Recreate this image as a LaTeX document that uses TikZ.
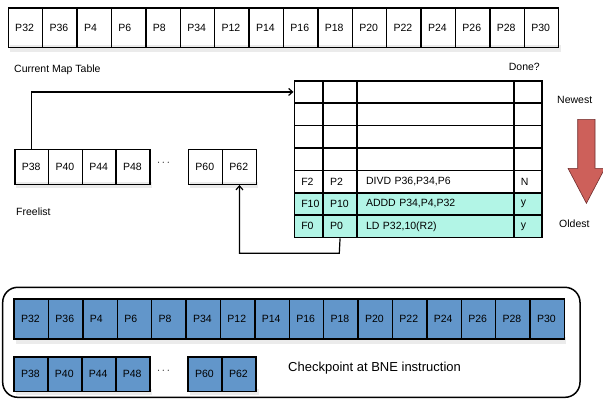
\documentclass[tikz,border=0pt]{standalone}
\usepackage{fontspec}
\setmainfont{Liberation Sans}
\usetikzlibrary{arrows.meta}
\definecolor{rowcyan}{RGB}{178,245,230}
\definecolor{boxblue}{RGB}{98,150,202}
\definecolor{arrowred}{RGB}{205,96,90}
\definecolor{arrowedge}{RGB}{110,45,45}
\tikzset{
  cell/.style={draw=black, line width=1.5pt, anchor=north west, inner xsep=7pt, inner ysep=0pt,
    minimum width=#1, text width=#1-14pt, align=left, font=\fontsize{10.5}{12}\selectfont},
  cell/.default=34.4pt,
  bluecell/.style={cell=#1, fill=boxblue},
  bluecell/.default=34.4pt,
  label/.style={inner sep=0pt, font=\fontsize{10.5}{12}\selectfont},
  conn/.style={line width=1.2pt, -{Straight Barb[length=4pt,width=7pt]}},
  shade/.style={fill=black, opacity=0.08}
}
\newcommand\myrow[6]{%
  \node[cell=28.8pt, minimum height=22.4pt, fill=#2] (r#1c0) at (293.5,{80+22.4*#1}) {#3};
  \node[cell=34pt, minimum height=22.4pt, fill=#2] (r#1c1) at (322.3,{80+22.4*#1}) {#4};
  \node[cell=156.7pt, minimum height=22.4pt, fill=#2, inner xsep=9pt, text width=138.7pt] (r#1c2) at (356.3,{80+22.4*#1}) {#5};
  \node[cell=28pt, minimum height=22.4pt, fill=#2] (r#1c3) at (513,{80+22.4*#1}) {#6};
}
\begin{document}
\begin{tikzpicture}[x=1pt,y=-1pt]
\useasboundingbox (0,0) rectangle (603,399);
% shadows
\fill[shade] (10,45) rectangle (561,52);
\fill[shade] (16,337) rectangle (566,344);
\fill[shade] (16,182) rectangle (152,188);
\fill[shade] (190,182) rectangle (258,188);
\fill[shade] (16,389) rectangle (152,395);
\fill[shade] (190,389) rectangle (259,395);
% current map table
\foreach \t [count=\i from 0] in {P32,P36,P4,P6,P8,P34,P12,P14,P16,P18,P20,P22,P24,P26,P28,P30}
  \node[cell, minimum height=39.4pt] (m\i) at ({7.5+34.4*\i},7.3) {\t};
\node[label, anchor=west] (maplbl) at (14,70) {Current Map Table};
\node[label, anchor=east] (donelbl) at (540,66.7) {Done?};
% freelist
\foreach \t [count=\i from 0] in {P38,P40,P44,P48}
  \node[cell=33.75pt, minimum height=35pt] (f\i) at ({14+33.75*\i},148.5) {\t};
\node[label] (fdots) at (163.5,163.5) {$\cdots$};
\node[cell=34pt, minimum height=35pt] (f4) at (187.7,148.5) {P60};
\node[cell=34pt, minimum height=35pt] (f5) at (221.7,148.5) {P62};
\node[label, anchor=west] (freelbl) at (16,212) {Freelist};
% ROB table
\myrow{0}{white}{}{}{}{}
\myrow{1}{white}{}{}{}{}
\myrow{2}{white}{}{}{}{}
\myrow{3}{white}{}{}{}{}
\myrow{4}{white}{F2}{P2}{DIVD P36,P34,P6}{N}
\myrow{5}{rowcyan}{F10}{P10}{ADDD P34,P4,P32}{y}
\myrow{6}{rowcyan}{F0}{P0}{LD P32,10(R2)}{y}
\node[label, anchor=west] (newlbl) at (557,100) {Newest};
\node[label, anchor=west] (oldlbl) at (559,223.3) {Oldest};
\draw[fill=arrowred, draw=arrowedge, line width=0.6pt]
  (577.7,119.3) -- (595,119.3) -- (595,168.3) -- (604.8,168.3) -- (586.4,203.3)
  -- (568,168.3) -- (577.7,168.3) -- cycle;
% connectors
\draw[conn] (f0.north) |- (r0c0.west);
\coordinate (bend) at (339.3,253.3);
\draw[conn] (r6c1.south) -- (bend) -| (f5.south);
% checkpoint
\draw[line width=1.5pt, rounded corners=15pt] (2.7,287.3) rectangle (580,397.3);
\foreach \t [count=\i from 0] in {P32,P36,P4,P6,P8,P34,P12,P14,P16,P18,P20,P22,P24,P26,P28,P30}
  \node[bluecell, minimum height=40pt] (c\i) at ({13.3+34.4*\i},298.3) {\t};
\foreach \t [count=\i from 0] in {P38,P40,P44,P48}
  \node[bluecell=34pt, minimum height=34.5pt] (cf\i) at ({13.3+33.9*\i},356) {\t};
\node[label] (cdots) at (163.5,371) {$\cdots$};
\node[bluecell=34pt, minimum height=34.5pt] (cf4) at (187.3,356) {P60};
\node[bluecell=34pt, minimum height=34.5pt] (cf5) at (221.3,356) {P62};
\node[label, anchor=west, font=\fontsize{13}{15}\selectfont] (cplbl) at (288,368.3) {Checkpoint at BNE instruction};
\end{tikzpicture}
\end{document}
